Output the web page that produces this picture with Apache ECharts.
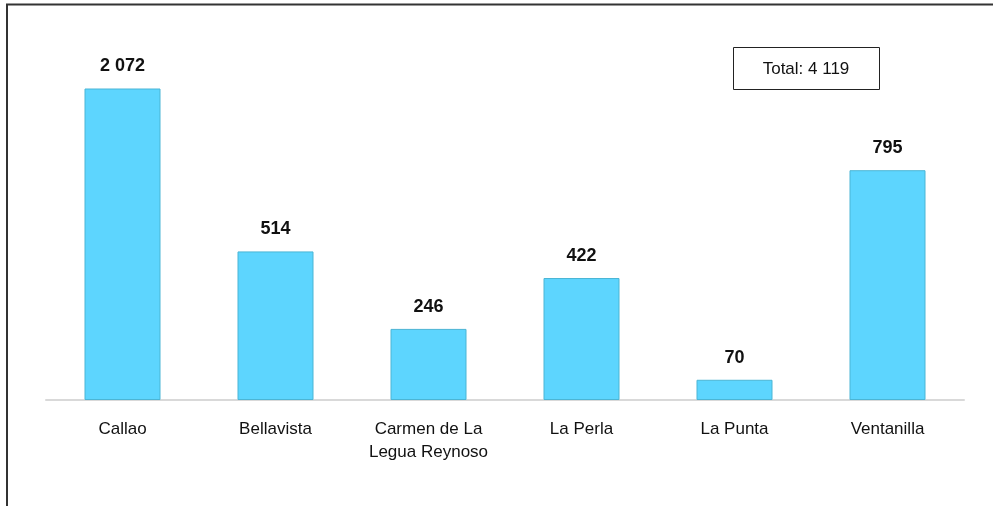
<!DOCTYPE html>
<html>
<head>
<meta charset="utf-8">
<script src="https://cdn.jsdelivr.net/npm/echarts@6/dist/echarts.min.js"></script>
<style>
  html, body { margin: 0; padding: 0; background: #fff; }
  #chart { width: 993px; height: 506px; }
</style>
</head>
<body>
<div id="chart"></div>
<script>
var districts = ['Callao', 'Bellavista', 'Carmen de La\nLegua Reynoso', 'La Perla', 'La Punta', 'Ventanilla'];
var counts = [2072, 514, 246, 422, 70, 795];
var totalLabel = 'Total: 4 119';

function fmtNum(v){
   return String(v).replace(/\B(?=(\d{3})+(?!\d))/g, ' ');
}

var chart = echarts.init(document.getElementById('chart'));
var font = '"Liberation Sans Narrow", "Liberation Sans", Arial, sans-serif';

chart.setOption({
   animation: false,
   grid: { left: 46, right: 29, top: 89, bottom: 106 },
   xAxis: {
      type: 'category',
      data: districts,
      axisLine: { lineStyle: { color: '#d9d9d9', width: 2 } },
      axisTick: { show: false },
      axisLabel: { interval: 0, hideOverlap: false, color: '#111', fontSize: 17, fontFamily: font, margin: 18, lineHeight: 23 }
   },
   yAxis: {
      type: 'value',
      min: 0,
      max: 1076, // Callao runs past the top, like the original
      show: false,
      splitLine: { show: false }
   },
   series: [{
      type: 'bar',
      data: counts,
      barWidth: 76,
      clip: true,
      itemStyle: { color: '#5dd5fe', borderColor: '#4bb5d5', borderWidth: 1 },
      label: {
         show: true,
         position: 'top',
         distance: 13,
         color: '#111',
         fontWeight: 'bold',
         fontSize: 18,
         fontFamily: font,
         formatter: function(p){ return fmtNum(p.value); }
      }
   }],
   graphic: [
      { type: 'rect', x: 7, y: 4.5, shape: { width: 1000, height: 600 },
        style: { fill: 'none', stroke: '#333', lineWidth: 2 }, z: 0 },
      { type: 'rect', x: 733.5, y: 47.5, shape: { width: 146, height: 42 },
        style: { fill: '#fff', stroke: '#222', lineWidth: 1 } },
      { type: 'text', x: 806, y: 69,
        style: { text: totalLabel, fill: '#111', font: '17px ' + font, textAlign: 'center', textVerticalAlign: 'middle' } }
   ]
});
</script>
</body>
</html>
